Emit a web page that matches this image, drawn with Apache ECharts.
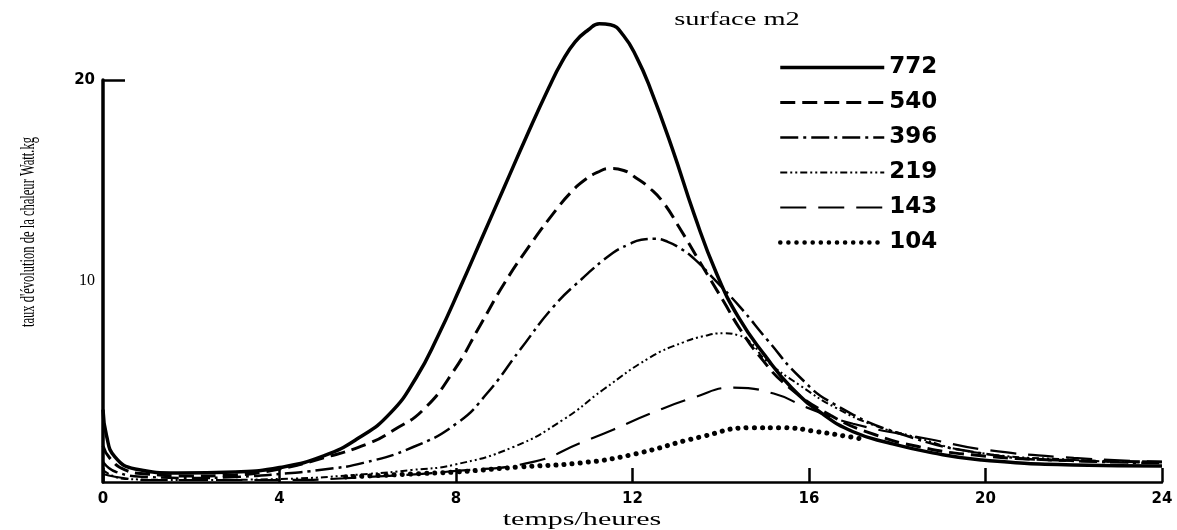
<!DOCTYPE html>
<html>
<head>
<meta charset="utf-8">
<script src="https://cdn.jsdelivr.net/npm/echarts@6/dist/echarts.min.js"></script>
<style>
  html, body { margin: 0; padding: 0; background: #fff; }
  #chart { width: 1177px; height: 530px; }
</style>
</head>
<body>
<div id="chart"></div>
<script>
// surfaces (m2) shown in the legend
var surfaces = ['772', '540', '396', '219', '143', '104']
var xTicks = [0, 4, 8, 12, 16, 20, 24]

// [heure, taux]
var s772 = [[0, 3.6], [0.08, 2.3], [0.27, 1.25], [0.73, 0.65], [1.7, 0.45], [3, 0.5], [4, 0.72], [5, 1.3],
  [5.8, 2.2], [6.5, 3.4], [7.1, 5.2], [7.6, 7.3], [8.1, 9.7], [8.6, 12.2], [9.1, 14.7], [9.6, 17.2], [10.1, 19.6],
  [10.4, 20.9], [10.7, 21.9], [11.0, 22.5], [11.25, 22.8], [11.5, 22.75], [11.8, 22.2], [12.1, 21.1], [12.4, 19.6],
  [12.9, 16.6], [13.4, 13.3], [13.9, 10.4], [14.4, 8.2], [15.0, 6.3], [15.6, 4.7], [16.3, 3.4], [17.0, 2.5],
  [17.8, 1.95], [18.8, 1.45], [19.9, 1.1], [22, 0.85], [24, 0.8]]
var s540 = [[0, 1.8], [0.15, 1.2], [0.5, 0.6], [1, 0.4], [2, 0.3], [3, 0.35], [4, 0.65], [5, 1.2], [6, 1.9],
  [6.6, 2.6], [7.26, 3.6], [7.94, 5.5], [8.55, 7.8], [9.1, 9.9], [9.68, 11.8], [10.29, 13.6], [10.6, 14.4],
  [10.9, 15.0], [11.2, 15.4], [11.5, 15.6], [11.8, 15.5], [12.1, 15.1], [12.4, 14.6], [12.7, 13.9], [13.05, 12.7],
  [13.54, 10.9], [14.06, 9.0], [14.44, 7.6], [14.9, 6.2], [15.5, 4.8], [16.5, 3.3], [17.5, 2.35], [18.5, 1.75],
  [19.7, 1.35], [21.5, 1.1], [24, 1.0]]
var s396 = [[0, 1.0], [0.3, 0.5], [1, 0.25], [2, 0.2], [3, 0.25], [4, 0.4], [5, 0.62], [5.9, 0.95], [7.03, 1.74],
  [8.03, 2.94], [8.7, 4.4], [9.46, 6.6], [10.2, 8.7], [10.85, 10.1], [11.56, 11.4], [11.9, 11.8], [12.2, 12.05],
  [12.5, 12.1], [12.8, 11.95], [13.1, 11.6], [13.4, 11.1], [13.76, 10.3], [14.44, 8.7], [15.06, 7.06], [15.8, 5.2],
  [16.55, 3.9], [18.07, 2.4], [20, 1.4], [22, 1.05], [24, 0.95]]
var s219 = [[0, 0.6], [0.5, 0.15], [2, 0.1], [4, 0.15], [6, 0.4], [7, 0.6], [7.94, 0.85], [9.3, 1.74], [10.43, 3.1],
  [11.34, 4.6], [12.4, 6.2], [13.15, 6.95], [13.6, 7.25], [14.06, 7.4], [14.4, 7.3], [14.7, 6.9], [15, 6.1],
  [15.8, 4.8], [16.6, 3.7], [17.5, 2.8], [18.3, 2.3], [19.7, 1.5], [22, 1.1], [24, 0.95]]
var s143 = [[0, 0.4], [1, 0.1], [4, 0.1], [6, 0.25], [8, 0.55], [9.75, 1.0], [10.82, 1.94], [11.56, 2.6], [12.4, 3.4],
  [13.38, 4.2], [14.29, 4.7], [15.2, 4.4], [15.96, 3.7], [17, 2.9], [18.8, 2.1], [20, 1.6], [22, 1.2], [24, 1.0]]
var s104 = [[5.5, 0.25], [7, 0.4], [8, 0.5], [9.46, 0.75], [10.82, 0.95], [11.95, 1.34], [13.54, 2.24], [14.67, 2.7],
  [15.42, 2.7], [16.19, 2.5], [16.94, 2.24], [17.3, 2.1]]

// line look for each surface: width, dash
var widths = [3.5, 3, 2.5, 2, 2.2, 5]
var dashes = ['solid', [15, 7], [18, 5, 3, 5], [7, 3, 2, 3, 2, 3], [26, 12], [0.1, 8]]

var chart = echarts.init(document.getElementById('chart'))

var handFont = 'DejaVu Sans'
var serifFont = 'Liberation Serif'

function mkLine (i, data) {
  return {
    name: surfaces[i],
    type: 'line',
    data: data,
    smooth: 0.5,
    symbol: 'none',
    clip: false,
    color: '#000',
    itemStyle: { color: '#000' },
    lineStyle: { color: '#000', width: widths[i], type: dashes[i], cap: i === 5 ? 'round' : 'butt' }
  }
}

// the scan is stretched sideways, so the serif captions are scaled
function caption (text, x, y, size, sx, rot) {
  return {
    type: 'text',
    x: x,
    y: y,
    rotation: rot || 0,
    scaleX: sx,
    style: {
      text: text,
      x: 0,
      y: 0,
      align: 'center',
      verticalAlign: 'middle',
      font: size + 'px "' + serifFont + '"',
      fill: '#000'
    }
  }
}

var option = {
  animation: false,
  backgroundColor: '#fff',
  graphic: [
    caption('surface m2', 737, 20, 18, 1.58),
    caption('temps/heures', 582, 520, 18, 1.67),
    caption("taux d'évolution de la chaleur Watt.kg", 28, 232, 22, 0.57, Math.PI / 2)
  ],
  legend: {
    orient: 'vertical',
    left: 773,
    top: 51,
    itemWidth: 104,
    itemHeight: 14,
    itemGap: 12,
    data: surfaces.map(function (s, i) {
      return { name: s, lineStyle: { width: Math.min(widths[i], 4.5), cap: i === 5 ? 'round' : 'butt' } }
    }),
    itemStyle: { opacity: 0 },
    textStyle: { fontFamily: handFont, fontWeight: 'bold', fontSize: 23, lineHeight: 22, color: '#000' }
  },
  grid: { left: 103, right: 15, top: 80, bottom: 48 },
  xAxis: {
    type: 'value',
    min: 0,
    max: 24,
    interval: 4,
    axisLine: { lineStyle: { color: '#000', width: 2.5 } },
    axisTick: { inside: true, length: 14, lineStyle: { color: '#000', width: 2.5 } },
    axisLabel: { margin: 10, fontFamily: handFont, fontWeight: 'bold', fontSize: 15, color: '#000' },
    splitLine: { show: false }
  },
  yAxis: {
    type: 'value',
    min: 0,
    max: 20,
    interval: 10,
    axisLine: { show: true, lineStyle: { color: '#000', width: 3.5 } },
    axisTick: { show: true, inside: true, length: 22, customValues: [20], lineStyle: { color: '#000', width: 2.5 } },
    axisLabel: {
      showMinLabel: false,
      margin: 8,
      formatter: function (v) { return v === 20 ? '{b|20}' : '{s|' + v + '}' },
      rich: {
        b: { fontFamily: handFont, fontWeight: 'bold', fontSize: 15, color: '#000' },
        s: { fontFamily: serifFont, fontSize: 16, color: '#000' }
      }
    },
    splitLine: { show: false }
  },
  series: [
    mkLine(0, s772),
    mkLine(1, s540),
    mkLine(2, s396),
    mkLine(3, s219),
    mkLine(4, s143),
    mkLine(5, s104)
  ]
}
chart.setOption(option)
</script>
</body>
</html>
